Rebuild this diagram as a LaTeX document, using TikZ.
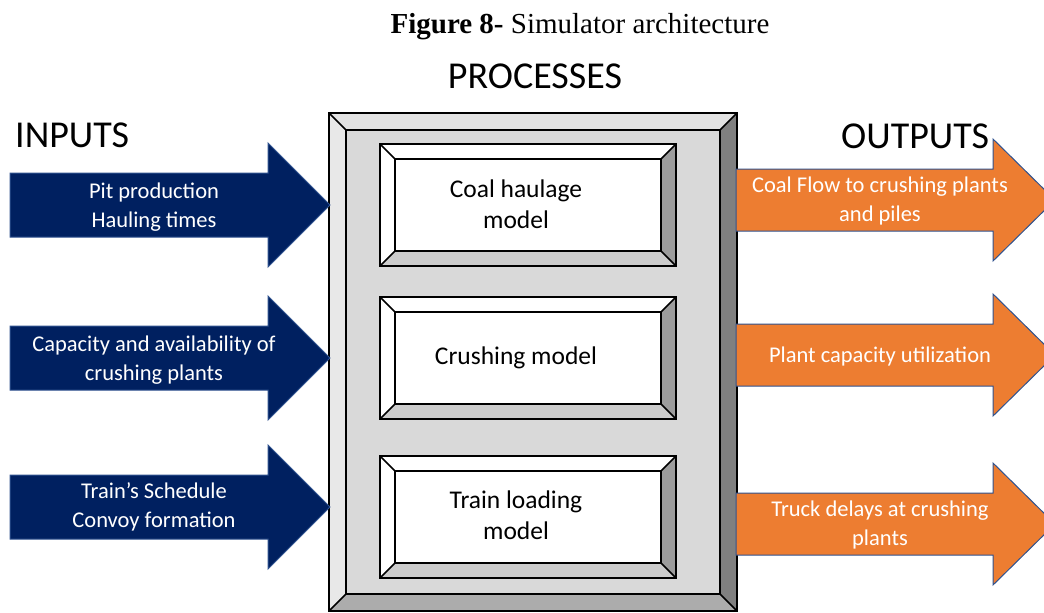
\documentclass[tikz,border=0pt]{standalone}
\usepackage{fontspec}
\setmainfont{Carlito}
\newfontfamily\tnr{Liberation Serif}
\definecolor{navy}{HTML}{002060}
\definecolor{orng}{HTML}{ED7D31}
\definecolor{edgeblue}{HTML}{2F528F}
\tikzset{
  inarrow/.style={fill=navy,draw=edgeblue,line width=1pt,line join=miter},
  outarrow/.style={fill=orng,draw=edgeblue,line width=1pt,line join=miter},
  arrowtext/.style={text=white,align=center,anchor=base,inner sep=0pt,font=\fontsize{22.5}{28.5}\selectfont},
  boxtext/.style={text=black,align=center,anchor=base,inner sep=0pt,font=\fontsize{25.5}{31}\selectfont},
  heading/.style={anchor=base west,inner sep=0pt,font=\fontsize{38}{44}\selectfont},
  bevline/.style={draw=black,line width=1.6pt,line join=miter}
}
% bevelled box: #1 x1, #2 y1, #3 x2, #4 y2, #5 depth, #6 face; colours top/left/right/bottom in \bT \bL \bR \bB
\newcommand\bevbox[6]{%
  \fill[#6] (#1,#2) rectangle (#3,#4);
  \fill[\bT] (#1,#2) -- (#3,#2) -- (#3-#5,#2+#5) -- (#1+#5,#2+#5) -- cycle;
  \fill[\bL] (#1,#2) -- (#1+#5,#2+#5) -- (#1+#5,#4-#5) -- (#1,#4) -- cycle;
  \fill[\bR] (#3,#2) -- (#3,#4) -- (#3-#5,#4-#5) -- (#3-#5,#2+#5) -- cycle;
  \fill[\bB] (#1,#4) -- (#3,#4) -- (#3-#5,#4-#5) -- (#1+#5,#4-#5) -- cycle;
  \draw[bevline] (#1,#2) rectangle (#3,#4);
  \draw[bevline] (#1+#5,#2+#5) rectangle (#3-#5,#4-#5);
  \draw[bevline] (#1,#2) -- (#1+#5,#2+#5) (#3,#2) -- (#3-#5,#2+#5)
                 (#1,#4) -- (#1+#5,#4-#5) (#3,#4) -- (#3-#5,#4-#5);
}
% arrow: #1 style, #2 tail x, #3 head x, #4 tip x, #5 centre y, #6 half shaft, #7 half head
\newcommand\bigarrow[7]{%
  \draw[#1] (#2,#5-#6) -- (#3,#5-#6) -- (#3,#5-#7) -- (#4,#5) -- (#3,#5+#7)
           -- (#3,#5+#6) -- (#2,#5+#6) -- cycle;
}
\begin{document}
\begin{tikzpicture}[x=1pt,y=-1pt]
\useasboundingbox (0,0) rectangle (1044,613);
\begin{scope}
\clip (0,0) rectangle (1044,613);

% title
\node[anchor=base,inner sep=0pt,font=\tnr\fontsize{29}{34}\selectfont] (title) at (580,33)
  {\textbf{Figure 8-} Simulator architecture};

% outer bevelled frame
\def\bT{gray!22}\def\bL{gray!18}\def\bR{gray!100}\def\bB{gray!65}
\bevbox{329}{113}{737}{611}{17}{gray!30}

% inner model boxes
\def\bT{white}\def\bL{white}\def\bR{gray!78}\def\bB{gray!40}
\bevbox{380}{144}{676}{266}{15}{white}
\bevbox{380}{297}{676}{419}{15}{white}
\bevbox{380}{456}{676}{578}{15}{white}

% (base anchor = baseline of the last line)
\node[boxtext] (m1) at (516,228) {Coal haulage\\model};
\node[boxtext] (m2) at (516,364) {Crushing model};
\node[boxtext] (m3) at (516,539) {Train loading\\model};

% input arrows
\bigarrow{inarrow}{10}{268}{330}{205}{32}{62}
\bigarrow{inarrow}{10}{268}{330}{358}{32}{62}
\bigarrow{inarrow}{10}{268}{330}{507}{32}{62}
\node[arrowtext] (i1) at (154,227) {Pit production\\Hauling times};
\node[arrowtext] (i2) at (154,380) {Capacity and availability of\\crushing plants};
\node[arrowtext] (i3) at (154,527) {Train’s Schedule\\Convoy formation};

% output arrows
\bigarrow{outarrow}{736}{993}{1055}{200}{31}{61}
\bigarrow{outarrow}{736}{993}{1055}{355}{31}{61}
\bigarrow{outarrow}{736}{993}{1055}{524}{31}{61}
\node[arrowtext] (o1) at (880,221) {Coal Flow to crushing plants\\and piles};
\node[arrowtext] (o2) at (880,362) {Plant capacity utilization};
\node[arrowtext] (o3) at (880,545) {Truck delays at crushing\\plants};

% headings
\node[anchor=base,inner sep=0pt,font=\fontsize{38}{44}\selectfont] (proc) at (535,88) {PROCESSES};
\node[heading] (inp) at (15,147) {INPUTS};
\node[heading] (outp) at (841,148) {OUTPUTS};
\end{scope}
\end{tikzpicture}
\end{document}
